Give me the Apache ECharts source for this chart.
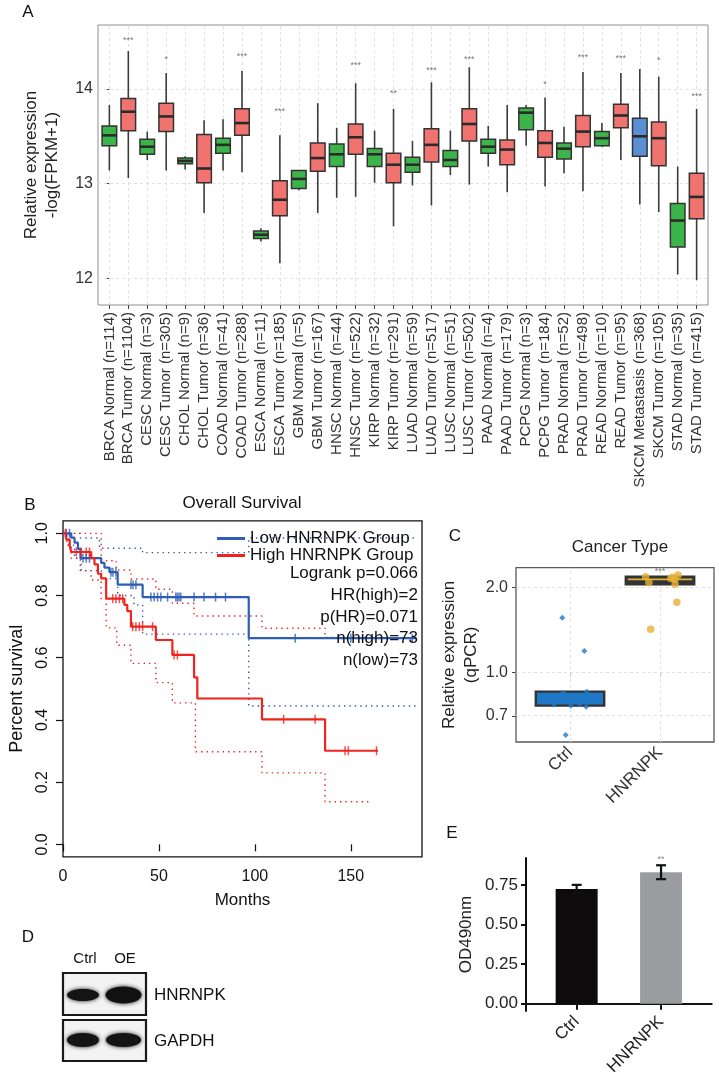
<!DOCTYPE html>
<html><head><meta charset="utf-8">
<script src="https://cdn.jsdelivr.net/npm/echarts@6/dist/echarts.min.js"></script>
<style>html,body{margin:0;padding:0;background:#fff}#c{width:719px;height:1078px}</style>
</head><body><div id="c"></div>
<script>
// ---------- Panel A data ----------
const categories = ['BRCA Normal (n=114)','BRCA Tumor (n=1104)','CESC Normal (n=3)','CESC Tumor (n=305)','CHOL Normal (n=9)','CHOL Tumor (n=36)','COAD Normal (n=41)','COAD Tumor (n=288)','ESCA Normal (n=11)','ESCA Tumor (n=185)','GBM Normal (n=5)','GBM Tumor (n=167)','HNSC Normal (n=44)','HNSC Tumor (n=522)','KIRP Normal (n=32)','KIRP Tumor (n=291)','LUAD Normal (n=59)','LUAD Tumor (n=517)','LUSC Normal (n=51)','LUSC Tumor (n=502)','PAAD Normal (n=4)','PAAD Tumor (n=179)','PCPG Normal (n=3)','PCPG Tumor (n=184)','PRAD Normal (n=52)','PRAD Tumor (n=498)','READ Normal (n=10)','READ Tumor (n=95)','SKCM Metastasis (n=368)','SKCM Tumor (n=105)','STAD Normal (n=35)','STAD Tumor (n=415)'];
const boxMin = [13.14,13.06,13.25,13.14,13.15,12.69,13.14,13.12,12.39,12.16,12.93,12.69,12.85,12.86,13.01,12.55,12.98,12.77,13.09,12.99,13.18,12.91,13.40,12.97,13.11,12.92,13.39,13.25,12.78,12.70,12.04,11.98];
const boxQ1  = [13.40,13.56,13.31,13.55,13.21,13.01,13.32,13.51,12.42,12.66,12.95,13.13,13.18,13.31,13.18,13.01,13.12,13.23,13.18,13.45,13.32,13.20,13.57,13.28,13.26,13.39,13.40,13.59,13.29,13.19,12.33,12.63];
const boxMed = [13.51,13.76,13.39,13.71,13.24,13.16,13.41,13.64,12.46,12.83,13.05,13.27,13.31,13.49,13.31,13.20,13.20,13.41,13.25,13.63,13.39,13.36,13.75,13.43,13.37,13.55,13.48,13.72,13.50,13.48,12.61,12.86];
const boxQ3  = [13.61,13.90,13.47,13.85,13.27,13.52,13.48,13.79,12.50,13.03,13.14,13.43,13.42,13.63,13.37,13.32,13.28,13.58,13.35,13.79,13.47,13.46,13.80,13.56,13.43,13.72,13.55,13.84,13.69,13.65,12.79,13.11];
const boxMax = [13.83,14.40,13.55,14.17,13.29,13.67,13.68,14.19,12.53,13.51,13.14,13.85,13.59,14.06,13.56,13.79,13.45,14.07,13.56,14.23,13.61,13.83,13.83,13.91,13.60,14.18,13.64,14.17,14.21,14.13,13.18,13.79];
const starIdx  = [1,3,7,9,13,15,17,19,23,25,27,29,31];
const starY    = [14.51,14.31,14.34,13.76,14.25,13.95,14.19,14.31,14.05,14.33,14.32,14.30,13.92];
const starText = ['***','*','***','***','***','**','***','***','*','***','***','*','***'];
const yTicksA = [12,13,14];

// ---------- Panel B data (Kaplan-Meier) ----------
const lowCurve  = [[0,1],[4.3,0.986],[6.0,0.97],[7.8,0.95],[9.1,0.92],[19.9,0.905],[21.6,0.89],[24.2,0.875],[28.5,0.835],[41.5,0.795],[96.8,0.663],[184,0.663]];
const lowUpper  = [[0,1],[9.1,0.985],[19,0.952],[41.5,0.938],[96.8,0.985],[184,0.985]];
const lowLower  = [[0,1],[3,0.962],[6,0.92],[9.5,0.88],[20,0.855],[28.5,0.80],[37,0.77],[41.5,0.676],[96.8,0.445],[184,0.445]];
const lowCensor = [[1.7,1],[3.4,1],[10.4,0.92],[12.1,0.92],[13.8,0.92],[25,0.875],[26,0.875],[27.6,0.875],[35.4,0.835],[36.5,0.835],[38,0.835],[45.8,0.795],[47.5,0.795],[49.3,0.795],[51,0.795],[54.5,0.795],[58.8,0.795],[59.6,0.795],[60.5,0.795],[61.4,0.795],[68.3,0.795],[73.5,0.795],[79.5,0.795],[84.7,0.795],[121,0.663],[150,0.663],[182,0.663]];
const highCurve  = [[0,1],[1.7,0.98],[3.5,0.96],[4.3,0.94],[14.7,0.92],[16.4,0.90],[18.2,0.87],[19.9,0.855],[22.5,0.79],[32,0.77],[33.5,0.75],[35.4,0.70],[48.4,0.657],[57,0.609],[68.3,0.537],[70,0.469],[103.7,0.402],[136.6,0.301],[164.2,0.301]];
const highUpper  = [[0,1],[19.9,0.912],[27.7,0.882],[35.4,0.853],[48.4,0.82],[57,0.775],[68.3,0.734],[103.7,0.695],[136.6,0.665],[164.2,0.665]];
const highLower  = [[0,1],[2,0.962],[4.3,0.92],[9,0.88],[14.7,0.85],[19.9,0.79],[22.5,0.696],[28,0.64],[35.4,0.582],[48.4,0.52],[57,0.455],[69,0.298],[103.7,0.23],[136.6,0.137],[160,0.137]];
const highCensor = [[1.2,1],[6.9,0.94],[9.5,0.94],[12.1,0.94],[13.8,0.94],[25.9,0.79],[27.6,0.79],[29.4,0.79],[31.1,0.79],[36.3,0.70],[38,0.70],[39.8,0.70],[41.5,0.70],[46.7,0.70],[57.9,0.609],[59.6,0.609],[115,0.402],[131.4,0.402],[147,0.301],[148.7,0.301],[163.4,0.301]];
const kmStats = ['Logrank p=0.066','HR(high)=2','p(HR)=0.071','n(high)=73','n(low)=73'];
const bXTicks = [0,50,100,150];
const bYTicks = [0,0.2,0.4,0.6,0.8,1];

// ---------- Panel C data (qPCR) ----------
const cCats = ['Ctrl','HNRNPK'];
const cQ1  = [0.762, 2.05];
const cMed = [0.79, 2.135];
const cQ3  = [0.854, 2.18];
const ctrlPtsX = [0.914,1.16,0.952,0.824,0.925,1.011,1.104,1.187,1.18];
const ctrlPtsY = [1.56,1.19,0.60,0.77,0.847,0.762,0.77,0.854,0.755];
const hnPtsX = [1.84,1.877,2.12,2.165,2.2,2.168,2.187,1.896,2.14];
const hnPtsY = [2.18,2.08,2.15,2.135,2.21,2.05,1.77,1.42,2.17];
const cYTicks = [0.7,1.0,2.0];

// ---------- Panel E data ----------
const eCats = ['Ctrl','HNRNPK'];
const eMean = [0.726, 0.832];
const eSD   = [0.026, 0.044];
const eYTicks = [0,0.25,0.5,0.75];

// ---------- helpers ----------
const FONT = "'Liberation Sans', Arial, Helvetica, sans-serif";
const NARROW = "'Liberation Sans Narrow', 'Liberation Sans', Arial, sans-serif";
const boxColor = n => n.indexOf('Metastasis') >= 0 ? '#5b8fd3' : (n.indexOf('Normal') >= 0 ? '#3bb54a' : '#f0736f');
const idxA = categories.map((c, i) => i);
const log2 = Math.log2;

function renderBoxA(params, api) {
  const i = api.value(0);
  const pMin = api.coord([i, api.value(1)]);
  const pQ1 = api.coord([i, api.value(2)]);
  const pMed = api.coord([i, api.value(3)]);
  const pQ3 = api.coord([i, api.value(4)]);
  const pMax = api.coord([i, api.value(5)]);
  const w = api.size([0.77, 0])[0];
  const x = pMed[0];
  return {type: 'group', children: [
    {type: 'line', shape: {x1: x, y1: pMax[1], x2: x, y2: pQ3[1]}, style: {stroke: '#3c3c3c', lineWidth: 1.6}},
    {type: 'line', shape: {x1: x, y1: pQ1[1], x2: x, y2: pMin[1]}, style: {stroke: '#3c3c3c', lineWidth: 1.6}},
    {type: 'rect', shape: {x: x - w / 2, y: pQ3[1], width: w, height: pQ1[1] - pQ3[1]}, style: {fill: boxColor(categories[i]), stroke: '#333', lineWidth: 1.5}},
    {type: 'line', shape: {x1: x - w / 2, y1: pMed[1], x2: x + w / 2, y2: pMed[1]}, style: {stroke: '#2a2a2a', lineWidth: 2.6}}
  ]};
}
function renderBoxC(params, api) {
  const i = params.dataIndex;
  const xv = api.value(0);
  const pQ1 = api.coord([xv, api.value(1)]);
  const pMed = api.coord([xv, api.value(2)]);
  const pQ3 = api.coord([xv, api.value(3)]);
  const w = api.size([0.76, 0])[0];
  const x = pMed[0];
  const fill = i === 0 ? '#1f78c6' : '#333333';
  const med = i === 0 ? '#1f78c6' : '#e2b13a';
  return {type: 'group', children: [
    {type: 'rect', shape: {x: x - w / 2, y: pQ3[1], width: w, height: pQ1[1] - pQ3[1]}, style: {fill: fill, stroke: '#333', lineWidth: 2.4}},
    {type: 'line', shape: {x1: x - w / 2 + 2, y1: pMed[1], x2: x + w / 2 - 2, y2: pMed[1]}, style: {stroke: med, lineWidth: 1.8}}
  ]};
}
function renderErr(params, api) {
  const xv = api.value(0), m = api.value(1), s = api.value(2);
  const pTop = api.coord([xv, m + s]);
  const pBot = api.coord([xv, m - s]);
  const cw = 5;
  const st = {stroke: '#111', lineWidth: 2.2};
  return {type: 'group', children: [
    {type: 'line', shape: {x1: pTop[0], y1: pTop[1], x2: pBot[0], y2: pBot[1]}, style: st},
    {type: 'line', shape: {x1: pTop[0] - cw, y1: pTop[1], x2: pTop[0] + cw, y2: pTop[1]}, style: st},
    {type: 'line', shape: {x1: pBot[0] - cw, y1: pBot[1], x2: pBot[0] + cw, y2: pBot[1]}, style: st}
  ]};
}

const gridDash = {type: [3, 3], color: '#dedede', width: 0.9};
const BLUE = '#2d5db5', RED = '#f0231d';
const noMark = {color: 'rgba(0,0,0,0)', borderWidth: 0};

function txt(text, x, y, size, opts) {
  opts = opts || {};
  return {type: 'text', x: x, y: y, rotation: opts.rotation || 0, z: 50, silent: true,
    style: {text: text, fill: opts.color || '#111', font: (opts.weight || 'normal') + ' ' + size + 'px ' + (opts.family || FONT),
      align: opts.align || 'center', verticalAlign: opts.va || 'middle'}};
}

const option = {
  animation: false,
  backgroundColor: '#ffffff',
  textStyle: {fontFamily: FONT},
  grid: [
    {left: 98, top: 25, width: 610, height: 280, show: true, borderColor: '#8f8f8f', borderWidth: 1, backgroundColor: '#fff'},
    {left: 61.7, top: 520.9, width: 360.3, height: 335.9, show: true, borderColor: '#111', borderWidth: 1.3, backgroundColor: 'transparent'},
    {left: 516, top: 567.7, width: 198, height: 174.3, show: true, borderColor: '#5a5a5a', borderWidth: 1.3, backgroundColor: '#fff'},
    {left: 526, top: 858, width: 185.7, height: 158, show: false}
  ],
  xAxis: [
    {type: 'value', gridIndex: 0, min: -0.6, max: 31.6, axisLine: {show: false}, splitLine: {show: false},
      axisTick: {show: true, length: 4, customValues: idxA, lineStyle: {color: '#444'}},
      axisLabel: {customValues: idxA, rotate: 90, margin: 7, fontSize: 15, color: '#333', fontFamily: FONT,
        formatter: v => categories[Math.round(v)]}},
    {type: 'value', gridIndex: 1, min: 0, max: 187.1, axisLine: {show: false}, splitLine: {show: false},
      axisTick: {show: true, length: 7, customValues: bXTicks, lineStyle: {color: '#111', width: 1.2}},
      axisLabel: {customValues: bXTicks, margin: 12, fontSize: 16, color: '#111', fontFamily: FONT},
      name: 'Months', nameLocation: 'middle', nameGap: 35, nameTextStyle: {fontSize: 17, color: '#111', fontFamily: FONT}},
    {type: 'value', gridIndex: 2, min: 0.4, max: 2.6, axisLine: {show: false}, splitLine: {show: false},
      axisTick: {show: true, length: 4, customValues: [1, 2], lineStyle: {color: '#444'}},
      axisLabel: {customValues: [1, 2], rotate: 45, margin: 8, fontSize: 17, color: '#333', fontFamily: FONT,
        formatter: v => cCats[Math.round(v) - 1]}},
    {type: 'value', gridIndex: 3, min: 0.4, max: 2.6, axisLine: {show: true, lineStyle: {color: '#111', width: 2}}, splitLine: {show: false},
      axisTick: {show: true, length: 6, customValues: [1, 2], lineStyle: {color: '#111', width: 2}},
      axisLabel: {customValues: [1, 2], rotate: 45, margin: 8, fontSize: 17, color: '#222', fontFamily: FONT,
        formatter: v => eCats[Math.round(v) - 1]}}
  ],
  yAxis: [
    {type: 'value', gridIndex: 0, min: 11.718, max: 14.676, axisLine: {show: false}, splitLine: {show: false},
      axisTick: {show: true, length: 4, customValues: yTicksA, lineStyle: {color: '#444'}},
      axisLabel: {customValues: yTicksA, margin: 5, fontSize: 16, color: '#333', fontFamily: FONT},
      name: 'Relative expression\n-log(FPKM+1)', nameLocation: 'middle', nameGap: 35, nameRotate: 90,
      nameTextStyle: {fontSize: 17, lineHeight: 21, color: '#222', fontFamily: FONT}},
    {type: 'value', gridIndex: 1, min: -0.04, max: 1.04, axisLine: {show: false}, splitLine: {show: false},
      axisTick: {show: true, length: 7, customValues: bYTicks, lineStyle: {color: '#111', width: 1.2}},
      axisLabel: {customValues: bYTicks, rotate: 90, margin: 12, fontSize: 16, color: '#111', fontFamily: FONT, formatter: v => v.toFixed(1)},
      name: 'Percent survival', nameLocation: 'middle', nameGap: 37, nameRotate: 90,
      nameTextStyle: {fontSize: 18, color: '#111', fontFamily: FONT}},
    {type: 'value', gridIndex: 2, min: -0.82, max: 1.2306, axisLine: {show: false}, splitLine: {show: false},
      axisTick: {show: true, length: 4, customValues: cYTicks.map(log2), lineStyle: {color: '#444'}},
      axisLabel: {customValues: cYTicks.map(log2), margin: 8, fontSize: 16, color: '#333', fontFamily: FONT,
        formatter: v => Math.pow(2, v).toFixed(1)},
      name: 'Relative expression\n(qPCR)', nameLocation: 'middle', nameGap: 33, nameRotate: 90,
      nameTextStyle: {fontSize: 17, lineHeight: 22, color: '#222', fontFamily: FONT}},
    {type: 'value', gridIndex: 3, min: -0.047, max: 0.922, axisLine: {show: true, lineStyle: {color: '#111', width: 2}}, splitLine: {show: false},
      axisTick: {show: true, length: 5, customValues: eYTicks, lineStyle: {color: '#111', width: 2}},
      axisLabel: {customValues: eYTicks, margin: 8, fontSize: 17, color: '#222', fontFamily: FONT, formatter: v => v.toFixed(2)},
      name: 'OD490nm', nameLocation: 'middle', nameGap: 51, nameRotate: 90,
      nameTextStyle: {fontSize: 17, color: '#222', fontFamily: FONT}}
  ],
  legend: {
    data: ['Low HNRNPK Group', 'High HNRNPK Group'], orient: 'vertical', left: 217, top: 530, padding: 0, z: 20,
    itemWidth: 28, itemHeight: 3, itemGap: 0, icon: 'rect', selectedMode: false,
    textStyle: {fontSize: 17, lineHeight: 16, color: '#111', fontFamily: FONT, padding: [0, 0, 0, 0]}
  },
  series: [
    // Panel A grid lines (drawn below the boxes)
    {type: 'line', xAxisIndex: 0, yAxisIndex: 0, data: [], z: 1, silent: true,
      markLine: {silent: true, z: 1, symbol: ['none', 'none'], label: {show: false}, lineStyle: gridDash, animation: false,
        data: yTicksA.map(v => ({yAxis: v})).concat(idxA.map(i => ({xAxis: i})))}},
    {type: 'custom', xAxisIndex: 0, yAxisIndex: 0, z: 10, renderItem: renderBoxA, encode: {x: 0, y: [1, 2, 3, 4, 5]},
      data: categories.map((c, i) => [i, boxMin[i], boxQ1[i], boxMed[i], boxQ3[i], boxMax[i]])},
    {type: 'scatter', xAxisIndex: 0, yAxisIndex: 0, z: 11, symbolSize: 2, itemStyle: noMark,
      label: {show: true, position: 'inside', formatter: p => p.data[2], fontSize: 9, color: '#555', fontFamily: FONT},
      data: starIdx.map((ix, k) => [ix, starY[k], starText[k]])},
    // Panel B
    {name: 'Low CI upper', type: 'line', xAxisIndex: 1, yAxisIndex: 1, step: 'end', showSymbol: false, z: 2,
      lineStyle: {color: BLUE, width: 1.4, type: [1.4, 4]}, data: lowUpper},
    {name: 'Low CI lower', type: 'line', xAxisIndex: 1, yAxisIndex: 1, step: 'end', showSymbol: false, z: 2,
      lineStyle: {color: BLUE, width: 1.4, type: [1.4, 4]}, data: lowLower},
    {name: 'High CI upper', type: 'line', xAxisIndex: 1, yAxisIndex: 1, step: 'end', showSymbol: false, z: 2,
      lineStyle: {color: RED, width: 1.4, type: [1.4, 4]}, data: highUpper},
    {name: 'High CI lower', type: 'line', xAxisIndex: 1, yAxisIndex: 1, step: 'end', showSymbol: false, z: 2,
      lineStyle: {color: RED, width: 1.4, type: [1.4, 4]}, data: highLower},
    {name: 'Low HNRNPK Group', type: 'line', xAxisIndex: 1, yAxisIndex: 1, step: 'end', showSymbol: false, z: 3,
      color: BLUE, lineStyle: {color: BLUE, width: 2.2}, data: lowCurve},
    {name: 'High HNRNPK Group', type: 'line', xAxisIndex: 1, yAxisIndex: 1, step: 'end', showSymbol: false, z: 3,
      color: RED, lineStyle: {color: RED, width: 2.2}, data: highCurve},
    {type: 'scatter', xAxisIndex: 1, yAxisIndex: 1, z: 4, symbol: 'rect', symbolSize: [1.5, 9], itemStyle: {color: BLUE}, data: lowCensor},
    {type: 'scatter', xAxisIndex: 1, yAxisIndex: 1, z: 4, symbol: 'rect', symbolSize: [1.5, 9], itemStyle: {color: RED}, data: highCensor},
    // Panel C
    {type: 'line', xAxisIndex: 2, yAxisIndex: 2, data: [], z: 1, silent: true,
      markLine: {silent: true, z: 1, symbol: ['none', 'none'], label: {show: false}, lineStyle: gridDash, animation: false,
        data: cYTicks.map(v => ({yAxis: log2(v)})).concat([{xAxis: 1}, {xAxis: 2}])}},
    {type: 'custom', xAxisIndex: 2, yAxisIndex: 2, z: 10, renderItem: renderBoxC, encode: {x: 0, y: [1, 2, 3]},
      data: cCats.map((c, i) => [i + 1, log2(cQ1[i]), log2(cMed[i]), log2(cQ3[i])])},
    {type: 'scatter', xAxisIndex: 2, yAxisIndex: 2, z: 11, symbol: 'diamond', symbolSize: 6, itemStyle: {color: '#1f78c6'},
      data: ctrlPtsX.map((x, i) => [x, log2(ctrlPtsY[i])])},
    {type: 'scatter', xAxisIndex: 2, yAxisIndex: 2, z: 11, symbol: 'circle', symbolSize: 7.5, itemStyle: {color: '#e7b235'},
      data: hnPtsX.map((x, i) => [x, log2(hnPtsY[i])])},
    {type: 'scatter', xAxisIndex: 2, yAxisIndex: 2, z: 12, symbolSize: 2, itemStyle: noMark,
      label: {show: true, position: 'inside', formatter: '***', fontSize: 9, color: '#555'}, data: [[2, log2(2.27)]]},
    // Panel E
    {type: 'bar', xAxisIndex: 3, yAxisIndex: 3, barWidth: 42, z: 2,
      data: eCats.map((c, i) => ({value: [i + 1, eMean[i]], itemStyle: {color: i === 0 ? '#0d0b0b' : '#9b9ca0'}}))},
    {type: 'custom', xAxisIndex: 3, yAxisIndex: 3, z: 3, renderItem: renderErr, encode: {x: 0, y: [1]},
      data: eCats.map((c, i) => [i + 1, eMean[i], eSD[i]])},
    {type: 'scatter', xAxisIndex: 3, yAxisIndex: 3, z: 5, symbolSize: 2, itemStyle: noMark,
      label: {show: true, position: 'inside', formatter: '**', fontSize: 9, color: '#666'}, data: [[2, 0.915]]}
  ],
  graphic: [
    txt('A', 28, 12, 17),
    txt('B', 30, 505, 17),
    txt('C', 455, 536, 17),
    txt('D', 28, 937, 17, {family: NARROW}),
    txt('E', 452, 833, 17),
    txt('Overall Survival', 242, 503, 17),
    txt('Cancer Type', 620, 547, 17, {color: '#222'}),
    txt(kmStats[0], 418, 573, 17, {align: 'right'}),
    txt(kmStats[1], 418, 595, 17, {align: 'right'}),
    txt(kmStats[2], 418, 617, 17, {align: 'right'}),
    txt(kmStats[3], 418, 638, 17, {align: 'right'}),
    txt(kmStats[4], 418, 660, 17, {align: 'right'}),
    // Panel D western blot
    txt('Ctrl', 85, 959, 15, {family: NARROW}),
    txt('OE', 125, 959, 15, {family: NARROW}),
    {type: 'rect', shape: {x: 63, y: 973, width: 83, height: 42}, style: {fill: '#f3f3f3', stroke: '#1a1a1a', lineWidth: 2.2}, z: 40},
    {type: 'rect', shape: {x: 63, y: 1020, width: 83, height: 41}, style: {fill: '#f3f3f3', stroke: '#1a1a1a', lineWidth: 2.2}, z: 40},
    {type: 'ellipse', shape: {cx: 83, cy: 995, rx: 16, ry: 6}, style: {fill: '#141414', shadowBlur: 4, shadowColor: '#141414'}, z: 41},
    {type: 'ellipse', shape: {cx: 123.5, cy: 995, rx: 18, ry: 8.5}, style: {fill: '#111', shadowBlur: 4, shadowColor: '#111'}, z: 41},
    {type: 'ellipse', shape: {cx: 83, cy: 1040, rx: 16, ry: 7}, style: {fill: '#141414', shadowBlur: 4, shadowColor: '#141414'}, z: 41},
    {type: 'ellipse', shape: {cx: 123.5, cy: 1040, rx: 17.5, ry: 7}, style: {fill: '#141414', shadowBlur: 4, shadowColor: '#141414'}, z: 41},
    txt('HNRNPK', 154, 995, 17, {align: 'left', family: NARROW}),
    txt('GAPDH', 154, 1041, 17, {align: 'left', family: NARROW})
  ]
};

const chart = echarts.init(document.getElementById('c'), null, {renderer: 'canvas', width: 719, height: 1078});
chart.setOption(option);
</script>
</body></html>
